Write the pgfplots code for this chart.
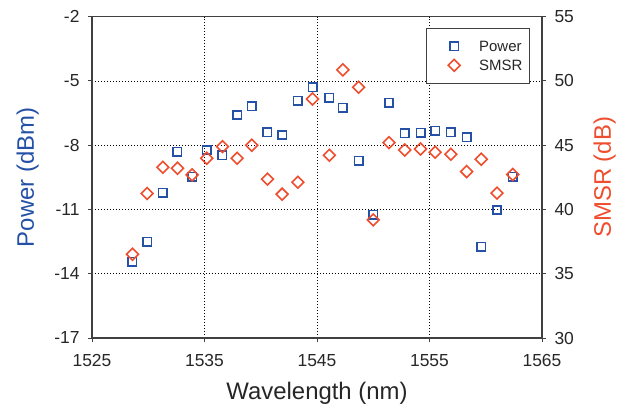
\documentclass[border=0pt]{standalone}
\usepackage{fontspec}
\setmainfont{Liberation Sans}
\usepackage{pgfplots}
\usepackage{pgfplotstable}
\pgfplotsset{compat=1.18}
\definecolor{pblue}{HTML}{2451A6}
\definecolor{sred}{HTML}{EE4E2E}
\definecolor{axgray}{HTML}{404040}
\definecolor{txtgray}{HTML}{262626}
\pgfplotstableread{
wl P S
1528.6 -13.43 36.52
1529.9 -12.50 41.24
1531.3 -10.21 43.29
1532.6 -8.30 43.21
1533.9 -9.47 42.69
1535.2 -8.22 43.99
1536.6 -8.47 44.89
1537.9 -6.59 43.99
1539.2 -6.18 45.00
1540.6 -7.40 42.36
1541.9 -7.52 41.19
1543.3 -5.93 42.12
1544.6 -5.30 48.60
1546.1 -5.79 44.22
1547.3 -6.25 50.86
1548.7 -8.72 49.51
1550.0 -11.25 39.19
1551.4 -6.01 45.20
1552.8 -7.44 44.63
1554.2 -7.41 44.71
1555.5 -7.33 44.45
1556.9 -7.40 44.30
1558.3 -7.63 42.95
1559.6 -12.73 43.91
1561.0 -11.02 41.27
1562.4 -9.47 42.72
}\datatable
\begin{document}
\begin{tikzpicture}
\path[use as bounding box] (-92bp,-67bp) rectangle (534bp,338bp);
\pgfplotsset{
  base/.style={
    width=450bp, height=321.3bp, scale only axis,
    xmin=1525, xmax=1565,
    axis line style={axgray, line width=1.1pt},
    tick style={axgray, line width=1pt},
    major tick length=4bp,
    tick align=outside,
    ticklabel style={font=\fontsize{17.5}{20}\selectfont, text=txtgray},
    /pgf/number format/assume math mode=true,
    /pgf/number format/1000 sep={},
  }
}
\begin{axis}[base, at={(0,0)}, anchor=south west,
  ymin=-17, ymax=-2, ytick={-17,-14,...,-2}, xtick={1525,1535,...,1565},
  xtick pos=bottom, ytick pos=left,
  xticklabel style={yshift=-9bp},
  yticklabel style={xshift=-5bp},
  grid=major, grid style={black, dash pattern=on 0.9bp off 2.1bp, line width=0.9bp},
  xlabel={Wavelength (nm)}, ylabel={Power (dBm)},
  xlabel style={at={(axis description cs:0.5,-0.1908)}, anchor=base, font=\fontsize{24}{28}\selectfont, text=txtgray},
  ylabel style={at={(axis description cs:-0.1289,0.5)}, anchor=base, font=\fontsize{24}{28}\selectfont, text=pblue},
]
\addplot[only marks, mark=square, mark size=4.2bp, draw=pblue, line width=1.6bp] table[x=wl, y=P] {\datatable};
\end{axis}
\begin{axis}[base, at={(0,0)}, anchor=south west,
  axis x line=none, axis y line*=right,
  ymin=30, ymax=55, ytick={30,35,...,55},
  yticklabel style={xshift=5bp},
  ylabel={SMSR (dB)},
  ylabel style={at={(axis description cs:1.153,0.5)}, anchor=base, font=\fontsize{24}{28}\selectfont, text=sred},
  legend style={at={(axis description cs:0.973,0.965)}, anchor=north east,
    draw=axgray, line width=1pt, fill=white, font=\fontsize{15}{18}\selectfont,
    text=txtgray, inner xsep=5bp, inner ysep=8.1bp, row sep=0pt,
    nodes={inner ysep=0pt, text height=15.2bp, text depth=4bp}},
  legend cell align=left,
  legend image code/.code={%
    \path[draw=none, fill=none] (0bp,-4bp) rectangle (46bp,4bp);
    \draw[#1] plot coordinates {(23bp,0bp)};},
]
\addlegendimage{only marks, mark=square, mark size=4.2bp, draw=pblue, line width=1.6bp}
\addlegendentry{Power}
\addplot[only marks, mark=square, mark size=4.2bp, mark options={rotate=45}, draw=sred, line width=1.6bp] table[x=wl, y=S] {\datatable};
\addlegendentry{SMSR}
\end{axis}
\end{tikzpicture}
\end{document}
